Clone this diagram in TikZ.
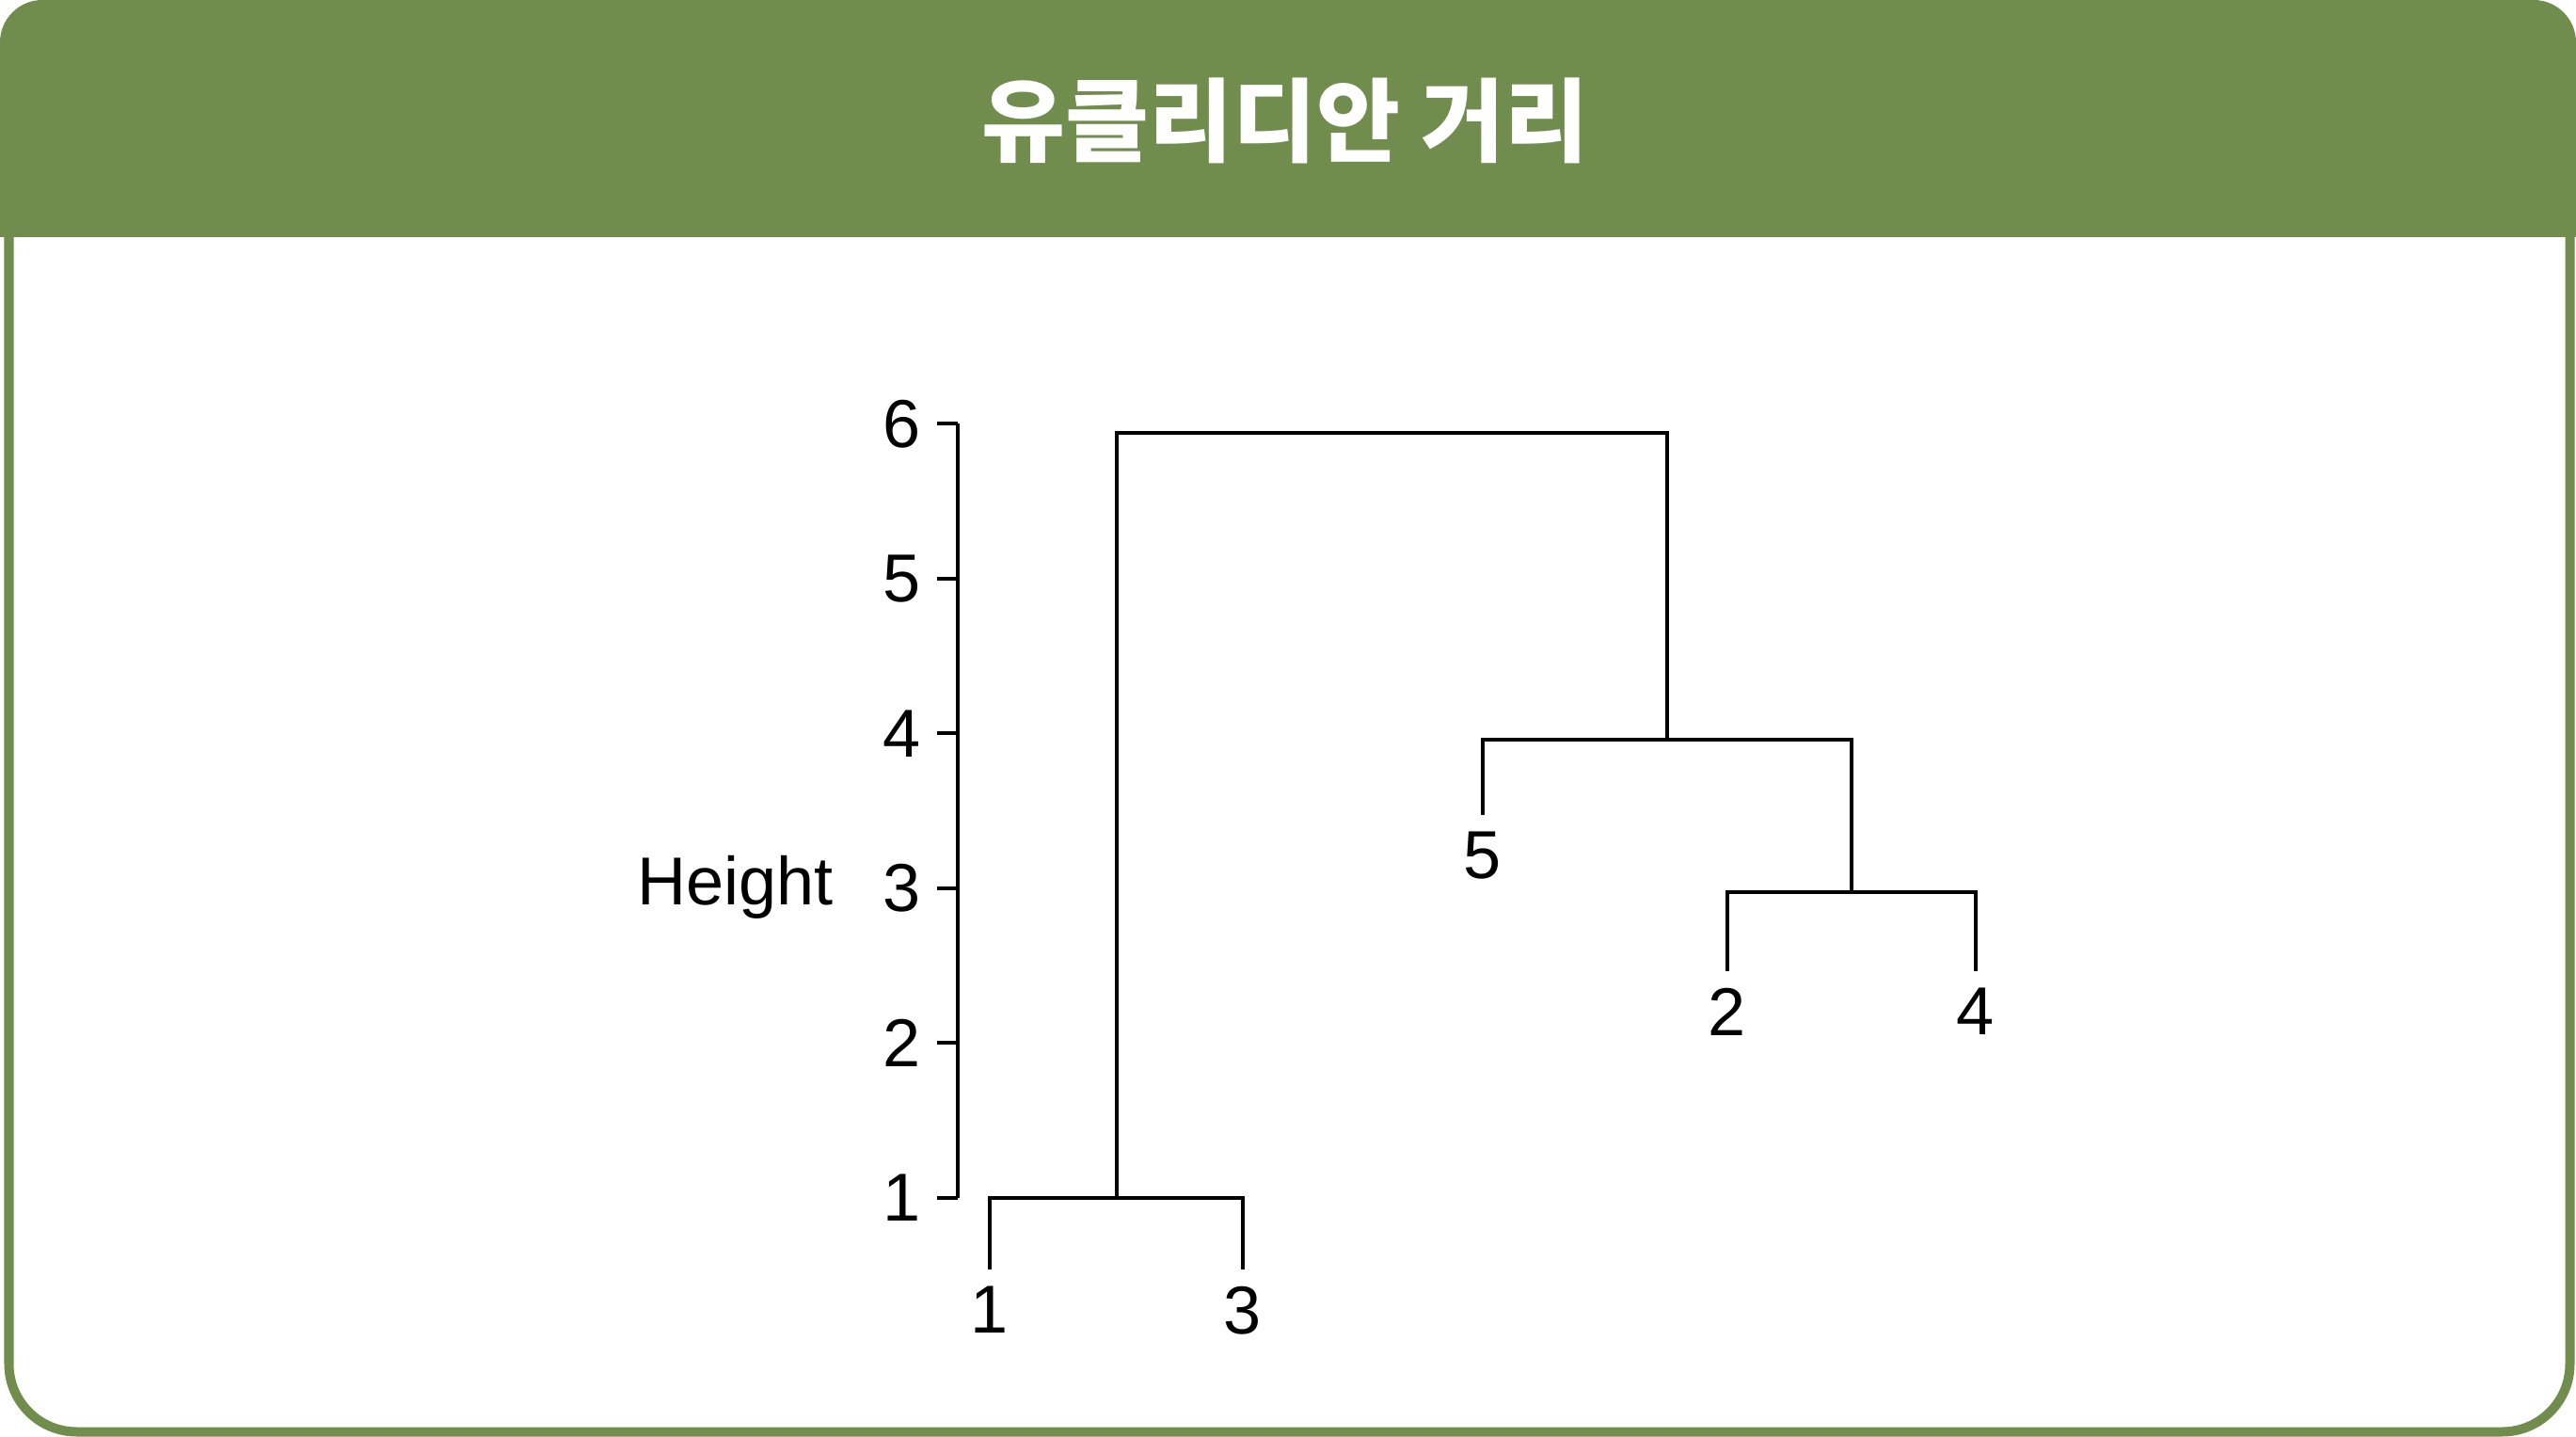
\documentclass[tikz,border=0pt]{standalone}
\usepackage{fontspec}
\setmainfont{Liberation Sans}
\newfontfamily\krfont{Noto Sans CJK KR}
\usetikzlibrary{positioning}

\definecolor{hdrgreen}{RGB}{113,141,78}

\begin{document}
\begin{tikzpicture}[
    dend/.style={line width=0.04cm, black},
    frame/.style={line width=0.1cm, hdrgreen},
    ticklab/.style={font=\fontsize{20.5}{24}\selectfont, inner sep=0pt, anchor=east},
    leaflab/.style={font=\fontsize{20.5}{24}\selectfont, inner sep=0pt},
    titletext/.style={font=\krfont\bfseries\fontsize{27.5}{32}\selectfont, inner sep=0pt},
]
    \useasboundingbox (0,0) rectangle (27.38,15.26);

    % box and header
    \draw[frame, rounded corners=0.72cm] (0.095,13.2) -- (0.095,0.045) -- (27.315,0.045) -- (27.315,13.2);
    \fill[hdrgreen] (0,12.74) -- (0,14.81) arc[start angle=180, end angle=90, radius=0.45]
        -- (26.93,15.26) arc[start angle=90, end angle=0, radius=0.45] -- (27.38,12.74) -- cycle;

    \node[titletext, text=white] (title) at (13.66,13.98) {유클리디안 거리};

    % axis
    \draw[dend] (10.18,2.53) -- (10.18,10.755);
    \foreach \h in {1,...,6}
        \draw[dend] (10.18,{2.53+(\h-1)*1.645}) -- ++(-0.22,0)
            node[ticklab, xshift=-0.15cm] (tick\h) {\h};
    \node[anchor=base east, font=\fontsize{20.5}{24}\selectfont, inner sep=0pt] (ylab) at (8.86,5.64) {Height};

    % leaves
    \coordinate (e1) at (10.52,1.77);
    \coordinate (e3) at (13.21,1.77);
    \coordinate (e5) at (15.76,6.60);
    \coordinate (e2) at (18.36,4.94);
    \coordinate (e4) at (21.00,4.94);

    % merges
    \coordinate (m13) at (11.87,2.53);
    \coordinate (m24) at (19.68,5.78);
    \coordinate (m5)  at (17.72,7.40);
    \coordinate (top) at (14.80,10.66);

    \node[leaflab, below=0.17cm of e1] (l1) {1};
    \node[leaflab, below=0.17cm of e3] (l3) {3};
    \node[leaflab, below=0.17cm of e5] (l5) {5};
    \node[leaflab, below=0.17cm of e2] (l2) {2};
    \node[leaflab, below=0.17cm of e4] (l4) {4};

    \draw[dend] (e1) |- (m13) -| (e3);
    \draw[dend] (e2) |- (m24) -| (e4);
    \draw[dend] (e5) |- (m5) -| (m24);
    \draw[dend] (m13) |- (top) -| (m5);
\end{tikzpicture}
\end{document}
